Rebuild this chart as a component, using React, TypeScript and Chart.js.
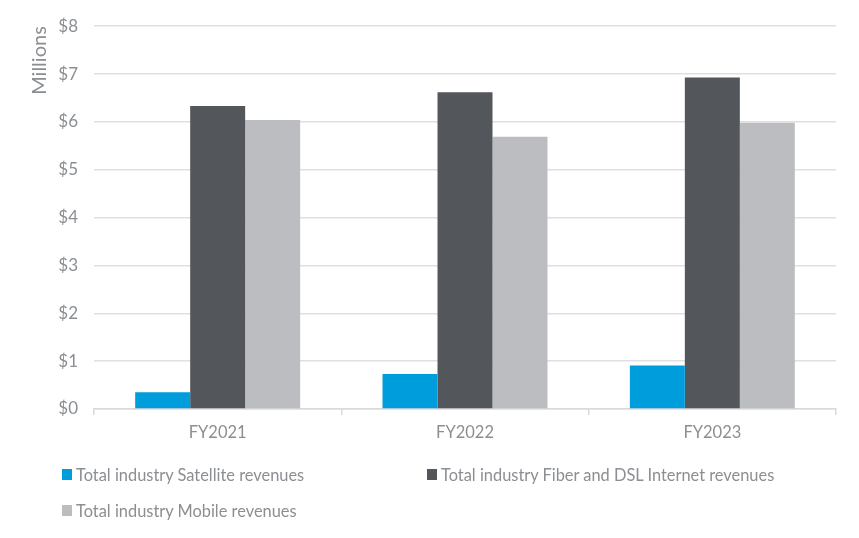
import React, { useEffect, useRef } from "react";
import { Chart, registerables } from "chart.js";

Chart.register(...registerables);

const categories = ["FY2021", "FY2022", "FY2023"];
const satellite = [0.35, 0.73, 0.91];
const fiberDsl = [6.33, 6.62, 6.93];
const mobile = [6.04, 5.69, 5.98];
const yTicks = [0, 1, 2, 3, 4, 5, 6, 7, 8];

const seriesNames = [
  "Total industry Satellite revenues",
  "Total industry Fiber and DSL Internet revenues",
  "Total industry Mobile revenues",
];
const colors = ["#009DDC", "#53565A", "#BCBDC0"];
const textColor = "#8b8e92";
const fontFamily = "Lato, 'DejaVu Sans', sans-serif";

export default function App() {
  const ref = useRef<HTMLCanvasElement | null>(null);

  useEffect(() => {
    if (!ref.current) return;
    const chart = new Chart(ref.current, {
      type: "bar",
      data: {
        labels: categories,
        datasets: [satellite, fiberDsl, mobile].map((d, i) => ({
          label: seriesNames[i],
          data: d,
          backgroundColor: colors[i],
          borderWidth: 0,
          categoryPercentage: 0.667,
          barPercentage: 1,
        })),
      },
      options: {
        animation: false,
        responsive: false,
        maintainAspectRatio: false,
        layout: { padding: { left: 0, right: 23, top: 22, bottom: 79 } },
        plugins: {
          legend: { display: false },
          tooltip: { enabled: false },
        },
        scales: {
          x: {
            offset: true,
            grid: {
              offset: true,
              drawOnChartArea: false,
              drawTicks: true,
              tickLength: 6,
              color: "#d9d9d9",
              lineWidth: 1.5,
            },
            border: { display: true, color: "#d9d9d9", width: 1.5 },
            ticks: {
              color: textColor,
              font: { family: fontFamily, size: 16.5 },
              padding: 8,
            },
            afterFit: (s: any) => {
              s.height = 50;
            },
          },
          y: {
            min: 0,
            max: 8,
            afterBuildTicks: (s: any) => {
              s.ticks = yTicks.map((v) => ({ value: v }));
            },
            grid: {
              drawTicks: false,
              color: "#e0e0e0",
              lineWidth: 1.5,
            },
            border: { display: false },
            ticks: {
              color: textColor,
              font: { family: fontFamily, size: 17 },
              padding: 16,
              callback: (v: any) => "$" + v,
            },
            title: {
              display: true,
              text: "Millions",
              align: "end",
              color: textColor,
              font: { family: fontFamily, size: 20 },
              padding: { top: 28, bottom: 0 },
            },
            afterFit: (s: any) => {
              s.width = 94;
            },
          },
        },
      },
    });
    return () => chart.destroy();
  }, []);

  const legendItem = (i: number, left: number, top: number) => (
    <div
      key={i}
      style={{
        position: "absolute",
        left,
        top,
        display: "flex",
        alignItems: "center",
        fontFamily,
        fontSize: 16.4,
        color: textColor,
        whiteSpace: "nowrap",
      }}
    >
      <span
        style={{
          display: "inline-block",
          width: 10,
          height: 11,
          background: colors[i],
          marginRight: 4,
        }}
      />
      {seriesNames[i]}
    </div>
  );

  return (
    <div
      style={{
        position: "absolute",
        left: 0,
        top: 0,
        width: 859,
        height: 538,
        background: "#fff",
      }}
    >
      <canvas ref={ref} width={859} height={538} style={{ width: 859, height: 538, display: "block" }} />
      {legendItem(0, 62, 465)}
      {legendItem(1, 427, 465)}
      {legendItem(2, 62, 501)}
    </div>
  );
}
